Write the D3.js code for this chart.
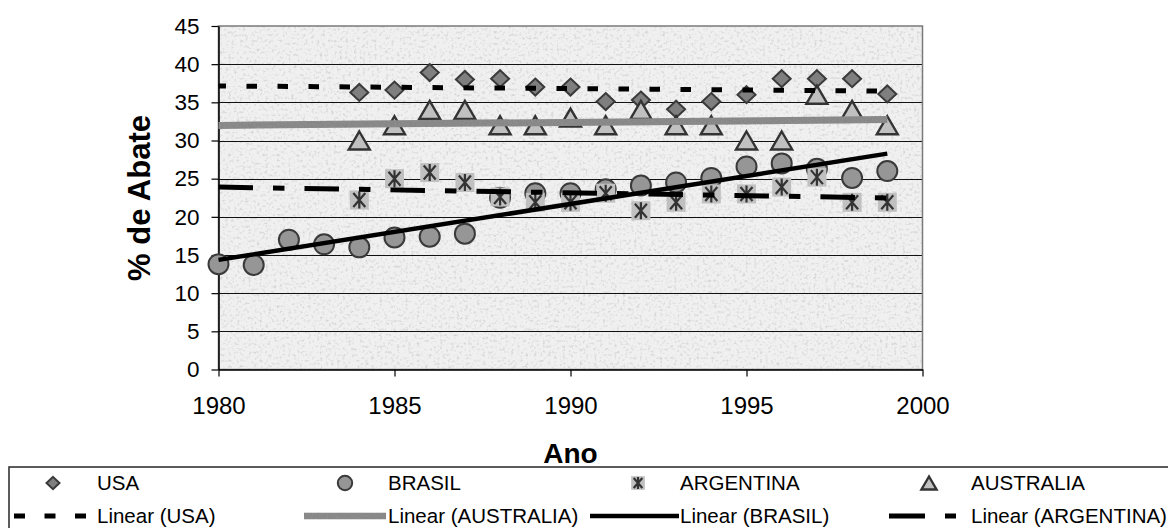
<!DOCTYPE html>
<html>
<head>
<meta charset="utf-8">
<script src="https://cdn.jsdelivr.net/npm/d3@7"></script>
<style>
  body { margin: 0; background: #fff; }
  svg { display: block; font-family: "Liberation Sans", Arial, sans-serif; }
</style>
</head>
<body>
<svg id="canvas" width="1168" height="528"></svg>
<script>
// data (percent of slaughter per year)
let years = [1980, 1981, 1982, 1983, 1984, 1985, 1986, 1987, 1988, 1989,
             1990, 1991, 1992, 1993, 1994, 1995, 1996, 1997, 1998, 1999];
let usa = [null, null, null, null, 36.3, 36.6, 38.9, 38.0, 38.1, 37.0,
           37.0, 35.1, 35.3, 34.1, 35.1, 36.0, 38.1, 38.1, 38.1, 36.1];
let brasil = [13.8, 13.7, 17.0, 16.4, 16.0, 17.3, 17.4, 17.8, 22.5, 23.1,
              23.1, 23.6, 24.1, 24.5, 25.1, 26.6, 27.0, 26.3, 25.1, 26.0];
let argentina = [null, null, null, null, 22.2, 25.0, 25.8, 24.5, 22.6, 21.9,
                 21.9, 23.1, 20.8, 21.9, 23.0, 23.0, 23.9, 25.2, 21.9, 21.9];
let australia = [null, null, null, null, 30, 32, 34, 34, 32, 32,
                 33, 32, 34, 32, 32, 30, 30, 36, 34, 32];

let xTicks = [1980, 1985, 1990, 1995, 2000];
let yTicks = [0, 5, 10, 15, 20, 25, 30, 35, 40, 45];
let xDomain = [1980, 2000];
let yDomain = [0, 45];
let trendRange = [1980, 1999];

let xTitle = 'Ano';
let yTitle = '% de Abate';

let canvas = d3.select('#canvas');

let x = d3.scaleLinear().domain(xDomain).range([218.5, 922.5]);
let y = d3.scaleLinear().domain(yDomain).range([369.5, 26]);

// granite-ish texture for the plot area
let defs = canvas.append('defs');
let filt = defs.append('filter').attr('id', 'granite')
    .attr('x', 0).attr('y', 0).attr('width', '100%').attr('height', '100%');
filt.append('feTurbulence').attr('type', 'fractalNoise')
    .attr('baseFrequency', 0.35).attr('numOctaves', 3).attr('seed', 11);
filt.append('feColorMatrix').attr('type', 'matrix')
    .attr('values', '0 0 0 0 0.66  0 0 0 0 0.66  0 0 0 0 0.66  3 0 0 0 -1.55');

// grainy grey for the australia trend (user space so flat lines keep it)
let aussieFilt = defs.append('filter').attr('id', 'grain')
    .attr('filterUnits', 'userSpaceOnUse')
    .attr('x', 0).attr('y', 0).attr('width', 1168).attr('height', 528);
aussieFilt.append('feTurbulence').attr('type', 'fractalNoise')
    .attr('baseFrequency', 1.2).attr('numOctaves', 1).attr('seed', 3).attr('result', 'n');
aussieFilt.append('feColorMatrix').attr('in', 'n').attr('type', 'matrix')
    .attr('values', '0 0 0 0 0.35  0 0 0 0 0.35  0 0 0 0 0.35  0.9 0 0 0 -0.3').attr('result', 'd');
aussieFilt.append('feComposite').attr('in', 'd').attr('in2', 'SourceGraphic').attr('operator', 'in').attr('result', 'dd');
let merge = aussieFilt.append('feMerge');
merge.append('feMergeNode').attr('in', 'SourceGraphic');
merge.append('feMergeNode').attr('in', 'dd');

let plotW = x(xDomain[1]) - x(xDomain[0]);
let plotH = y(yDomain[0]) - y(yDomain[1]);

canvas.append('rect')
    .attr('x', x(xDomain[0])).attr('y', y(yDomain[1]))
    .attr('width', plotW).attr('height', plotH)
    .attr('fill', '#f0f0f0');
canvas.append('rect')
    .attr('x', x(xDomain[0])).attr('y', y(yDomain[1]))
    .attr('width', plotW).attr('height', plotH)
    .attr('fill', '#fff')
    .attr('filter', 'url(#granite)');

// gridlines
canvas.append('g').selectAll('line')
    .data(yTicks.filter(d => d > yDomain[0] && d < yDomain[1]))
    .enter()
    .append('line')
    .attr('x1', x(xDomain[0])).attr('x2', x(xDomain[1]))
    .attr('y1', d => Math.round(y(d)) + 0.5).attr('y2', d => Math.round(y(d)) + 0.5)
    .attr('stroke', '#111').attr('stroke-width', 1);

// plot border (top / right are grey)
canvas.append('rect')
    .attr('x', x(xDomain[0])).attr('y', y(yDomain[1]))
    .attr('width', plotW).attr('height', plotH)
    .attr('fill', 'none').attr('stroke', '#7a7a7a').attr('stroke-width', 1.5);

// axes
let yAxis = canvas.append('g')
    .attr('transform', `translate(${x(xDomain[0])},0)`)
    .call(d3.axisLeft(y).tickValues(yTicks).tickSize(7).tickSizeOuter(0).tickPadding(12));
let xAxis = canvas.append('g')
    .attr('transform', `translate(0,${y(yDomain[0])})`)
    .call(d3.axisBottom(x).tickValues(xTicks).tickFormat(d3.format('d')).tickSize(7).tickSizeOuter(0).tickPadding(20));

[yAxis, xAxis].forEach(a => {
    a.select('.domain').attr('stroke', '#000').attr('stroke-width', 1.5);
    a.selectAll('.tick line').attr('stroke', '#000').attr('stroke-width', 1.2);
    a.selectAll('.tick text').attr('fill', '#000').attr('font-family', null);
});
yAxis.selectAll('.tick text').attr('font-size', 22.5);
xAxis.selectAll('.tick text').attr('font-size', 24);

// axis titles
canvas.append('text')
    .attr('transform', `translate(150,198) rotate(-90)`)
    .attr('text-anchor', 'middle')
    .attr('font-size', 31).attr('font-weight', 'bold')
    .text(yTitle);
canvas.append('text')
    .attr('x', (x(xDomain[0]) + x(xDomain[1])) / 2).attr('y', 463)
    .attr('text-anchor', 'middle')
    .attr('font-size', 28).attr('font-weight', 'bold')
    .text(xTitle);

// marker shapes
let drawDiamond = (g, s) => g.append('path')
    .attr('d', `M0,${-8.5 * s}L${9 * s},0L0,${8.5 * s}L${-9 * s},0Z`)
    .attr('fill', '#7f7f7f').attr('stroke', '#3a3a3a').attr('stroke-width', 2);
let drawCircle = (g, s) => g.append('circle')
    .attr('r', 10 * s)
    .attr('fill', '#969696').attr('stroke', '#3a3a3a').attr('stroke-width', 2);
let drawStar = (g, s) => {
    g.append('rect')
        .attr('x', -9.5 * s).attr('y', -9.5 * s).attr('width', 19 * s).attr('height', 19 * s)
        .attr('fill', '#c0c0c0');
    g.append('path')
        .attr('d', `M${-6 * s},${-7 * s}L${6 * s},${7 * s}M${6 * s},${-7 * s}L${-6 * s},${7 * s}M0,${-8.5 * s}L0,${8.5 * s}`)
        .attr('stroke', '#333').attr('stroke-width', 2.2).attr('fill', 'none');
};
let drawTriangle = (g, s) => g.append('path')
    .attr('d', `M0,${-9 * s}L${10.5 * s},${9 * s}L${-10.5 * s},${9 * s}Z`)
    .attr('fill', '#c0c0c0').attr('stroke', '#333').attr('stroke-width', 2.4)
    .attr('stroke-linejoin', 'miter');

let seriesList = [
    { name: 'USA', values: usa, marker: drawDiamond },
    { name: 'BRASIL', values: brasil, marker: drawCircle },
    { name: 'ARGENTINA', values: argentina, marker: drawStar },
    { name: 'AUSTRALIA', values: australia, marker: drawTriangle }
];

seriesList.forEach(s => {
    let pts = years.map((yr, i) => ({ yr: yr, v: s.values[i] })).filter(p => p.v != null);
    canvas.append('g').selectAll('g')
        .data(pts)
        .enter()
        .append('g')
        .attr('transform', p => `translate(${x(p.yr)},${y(p.v)})`)
        .each(function () { s.marker(d3.select(this), 1); });
});

// least squares trendline over the available points
let linReg = (vals) => {
    let pts = years.map((yr, i) => [yr, vals[i]]).filter(p => p[1] != null);
    let mx = d3.mean(pts, p => p[0]);
    let my = d3.mean(pts, p => p[1]);
    let num = d3.sum(pts, p => (p[0] - mx) * (p[1] - my));
    let den = d3.sum(pts, p => (p[0] - mx) * (p[0] - mx));
    let b = num / den;
    return yr => my + b * (yr - mx);
};

let trendStyles = [
    { name: 'Linear (USA)', values: usa, stroke: '#000', width: 5, dash: '10.5,20.5', offset: 3 },
    { name: 'Linear (AUSTRALIA)', values: australia, stroke: '#858585', width: 7, dash: null, offset: 0, grain: true },
    { name: 'Linear (BRASIL)', values: brasil, stroke: '#000', width: 4.5, dash: null, offset: 0 },
    { name: 'Linear (ARGENTINA)', values: argentina, stroke: '#000', width: 5, dash: '34.5,20,11.5,20', offset: 0 }
];

let trendLine = d3.line().x(d => x(d[0])).y(d => y(d[1]));

trendStyles.forEach(t => {
    let f = linReg(t.values);
    canvas.append('path')
        .datum(trendRange.map(yr => [yr, f(yr)]))
        .attr('d', trendLine)
        .attr('fill', 'none')
        .attr('stroke', t.stroke)
        .attr('stroke-width', t.width)
        .attr('stroke-dasharray', t.dash)
        .attr('stroke-dashoffset', t.offset)
        .attr('filter', t.grain ? 'url(#grain)' : null);
});

// legend
let legend = canvas.append('g');
legend.append('rect')
    .attr('x', 9).attr('y', 467).attr('width', 1175).attr('height', 80)
    .attr('fill', '#fff').attr('stroke', '#333').attr('stroke-width', 1.6);

let markerItems = [
    { mx: 53, tx: 97 }, { mx: 345, tx: 388 }, { mx: 638, tx: 680 }, { mx: 929, tx: 971 }
];
seriesList.forEach((s, i) => {
    let g = legend.append('g').attr('transform', `translate(${markerItems[i].mx},483)`);
    s.marker(g, 0.72);
    legend.append('text')
        .attr('x', markerItems[i].tx).attr('y', 490)
        .attr('font-size', 20.5)
        .text(s.name);
});

let lineItems = [
    { x1: 14, x2: 86, tx: 97 }, { x1: 304, x2: 386, tx: 388 },
    { x1: 590, x2: 679, tx: 680 }, { x1: 889, x2: 956, tx: 971 }
];
let legendDash = ['11,19.5', null, null, '36,20,11.5,20'];
trendStyles.forEach((t, i) => {
    legend.append('line')
        .attr('x1', lineItems[i].x1).attr('x2', lineItems[i].x2)
        .attr('y1', 516).attr('y2', 516)
        .attr('stroke', t.stroke)
        .attr('stroke-width', Math.min(t.width, 6.5))
        .attr('stroke-dasharray', legendDash[i])
        .attr('filter', t.grain ? 'url(#grain)' : null);
    legend.append('text')
        .attr('x', lineItems[i].tx).attr('y', 523)
        .attr('font-size', 20.5)
        .text(t.name);
});
</script>
</body>
</html>
